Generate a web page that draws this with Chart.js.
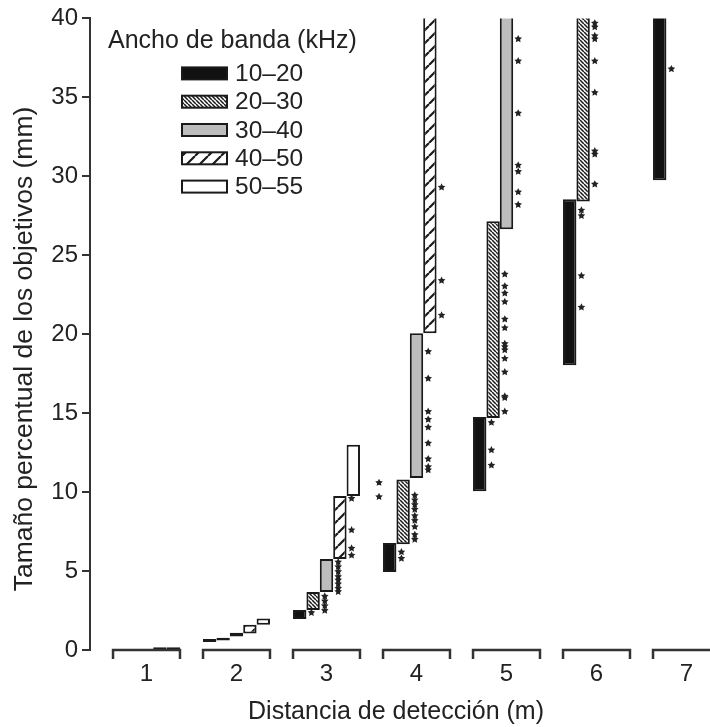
<!DOCTYPE html>
<html lang="es">
<head>
    <meta charset="UTF-8">
    <title>Tamaño percentual de los objetivos</title>
    <script src="https://cdn.jsdelivr.net/npm/chart.js"></script>
    <style>
        body { margin: 0; background: #fff; overflow: hidden; }
    </style>
</head>
<body>
    <canvas id="chart" width="710" height="727"></canvas>

    <script>
        // Distancias (m) y bandas de frecuencia
        const distances = [1, 2, 3, 4, 5, 6, 7];
        const bandLabels = ['10–20', '20–30', '30–40', '40–50', '50–55'];
        const yTicks = [0, 5, 10, 15, 20, 25, 30, 35, 40];

        // Rango [min, max] del tamaño percentual por distancia (null = sin barra)
        const range10_20 = [null, [0.5, 0.7], [1.96, 2.53], [4.94, 6.77], [10.06, 14.75], [18.04, 28.54], [29.75, 45]];
        const range20_30 = [null, [0.6, 0.78], [2.53, 3.67], [6.7, 10.8], [14.7, 27.15], [28.4, 45], null];
        const range30_40 = [null, [0.85, 1.1], [3.67, 5.76], [10.9, 20.06], [26.65, 45], null, null];
        const range40_50 = [[0, 0.18], [1.05, 1.6], [5.76, 9.75], [20.06, 45], null, null, null];
        const range50_55 = [[0, 0.18], [1.6, 2.0], [9.75, 13.0], null, null, null, null];

        // Asteriscos (valores en mm) a la derecha de cada barra
        const stars10_20 = [[], [], [2.36], [6.2, 5.8], [14.4, 12.66, 11.7], [27.85, 27.5, 23.7, 21.7], [36.8]];
        const stars20_30 = [[], [], [3.4, 3.1, 2.8, 2.5], [9.8, 9.5, 9.2, 8.9, 8.5, 8.2, 7.8, 7.3, 7.0],
            [23.8, 23.04, 22.6, 22.05, 20.95, 20.4, 19.4, 19.2, 19.0, 18.46, 17.6, 16.07, 15.97, 15.1],
            [39.7, 39.45, 38.9, 38.7, 37.3, 35.3, 31.6, 31.4, 29.5], []];
        const stars30_40 = [[], [], [5.57, 5.27, 4.96, 4.64, 4.43, 4.18, 3.9, 3.69],
            [18.9, 17.2, 15.1, 14.6, 14.1, 13.1, 12.1, 11.6, 11.4],
            [38.7, 37.3, 34.0, 30.7, 30.3, 29.0, 28.2], [], []];
        const stars40_50 = [[], [], [9.6, 7.6, 6.44, 6.0], [29.3, 23.4, 21.2], [], [], []];
        const stars50_55 = [[], [], [], [], [], [], []];
        // asteriscos sueltos a la izquierda de la barra 10-20 en 4 m
        const starsLeft10_20 = [[], [], [], [10.6, 9.7], [], [], []];

        const ranges = [range10_20, range20_30, range30_40, range40_50, range50_55];
        const starSets = [stars10_20, stars20_30, stars30_40, stars40_50, stars50_55];
        const leftStarSets = [starsLeft10_20, [], [], [], []];

        const catPct = 0.744;
        const FONT = '"Liberation Sans", Arial, sans-serif';
        const INK = '#222';

        // Tramas
        function hatch(size, dir, lw) {
            const c = document.createElement('canvas');
            c.width = size; c.height = size;
            const g = c.getContext('2d');
            g.fillStyle = '#fff';
            g.fillRect(0, 0, size, size);
            g.strokeStyle = '#1a1a1a';
            g.lineWidth = lw;
            g.beginPath();
            for (let k = -1; k <= 1; k++) {
                if (dir === 'back') { g.moveTo(k * size, 0); g.lineTo(k * size + size, size); }
                else { g.moveTo(k * size, size); g.lineTo(k * size + size, 0); }
            }
            g.stroke();
            return g.createPattern(c, 'repeat');
        }
        const fills = ['#111', hatch(4, 'back', 1.5), '#bdbdbd', hatch(13, 'fwd', 2.2), '#fff'];

        const datasets = bandLabels.map((lab, k) => ({
            label: lab,
            data: distances
                .map((d, i) => ({ x: d, y: ranges[k][i] }))
                .filter(p => p.y !== null),
            backgroundColor: fills[k],
            borderColor: '#1a1a1a',
            borderWidth: 2,
            borderSkipped: false,
            categoryPercentage: catPct,
            barPercentage: 1,
            clip: { top: 0, left: false, right: false, bottom: false }
        }));

        function drawStar(ctx, cx, cy, r) {
            ctx.beginPath();
            for (let i = 0; i < 10; i++) {
                const rad = i % 2 ? r * 0.5 : r;
                const a = -Math.PI / 2 + i * Math.PI / 5;
                ctx.lineTo(cx + rad * Math.cos(a), cy + rad * Math.sin(a));
            }
            ctx.closePath();
            ctx.fill();
        }

        // Corchetes del eje x, asteriscos, leyenda y títulos
        const extras = {
            id: 'extras',
            afterDatasetsDraw(chart) {
                const { ctx, chartArea, scales: { x, y } } = chart;
                ctx.save();

                // corchetes
                const half = (x.getPixelForValue(2) - x.getPixelForValue(1)) * catPct / 2;
                const y0 = y.getPixelForValue(0);
                ctx.strokeStyle = '#333';
                ctx.lineWidth = 2.5;
                distances.forEach(d => {
                    const cx = x.getPixelForValue(d);
                    ctx.beginPath();
                    ctx.moveTo(cx - half, y0 + 9);
                    ctx.lineTo(cx - half, y0);
                    ctx.lineTo(cx + half, y0);
                    ctx.lineTo(cx + half, y0 + 9);
                    ctx.stroke();
                });

                // asteriscos
                ctx.fillStyle = INK;
                chart.data.datasets.forEach((ds, k) => {
                    const meta = chart.getDatasetMeta(k);
                    meta.data.forEach((bar, j) => {
                        const i = distances.indexOf(ds.data[j].x);
                        (starSets[k][i] || []).forEach(v =>
                            drawStar(ctx, bar.x + bar.width / 2 + 5, y.getPixelForValue(v), 4));
                        ((leftStarSets[k] || [])[i] || []).forEach(v =>
                            drawStar(ctx, bar.x - bar.width / 2 - 4, y.getPixelForValue(v), 4));
                    });
                });

                // leyenda
                ctx.font = '25px ' + FONT;
                ctx.textBaseline = 'middle';
                ctx.textAlign = 'left';
                ctx.fillText('Ancho de banda (kHz)', chartArea.left + 18, chartArea.top + 23);
                ctx.font = '24.5px ' + FONT;
                chart.data.datasets.forEach((ds, k) => {
                    const yy = chartArea.top + 55 + k * 28.3;
                    ctx.fillStyle = ds.backgroundColor;
                    ctx.fillRect(chartArea.left + 92, yy - 6, 45, 12);
                    ctx.strokeStyle = '#1a1a1a';
                    ctx.lineWidth = 2;
                    ctx.strokeRect(chartArea.left + 92, yy - 6, 45, 12);
                    ctx.fillStyle = INK;
                    ctx.fillText(ds.label, chartArea.left + 145, yy + 1);
                });

                // títulos de ejes
                ctx.textAlign = 'center';
                ctx.font = '25px ' + FONT;
                ctx.fillText('Distancia de detección (m)', 396, 712);
                ctx.translate(25, 349);
                ctx.rotate(-Math.PI / 2);
                ctx.font = '26.5px ' + FONT;
                ctx.fillText('Tamaño percentual de los objetivos (mm)', 0, 0);

                ctx.restore();
            }
        };

        const chart = new Chart(document.getElementById('chart').getContext('2d'), {
            type: 'bar',
            data: { datasets },
            plugins: [extras],
            options: {
                responsive: false,
                animation: false,
                layout: { padding: { top: 18, right: 0, bottom: 0, left: 0 } },
                plugins: { legend: { display: false }, tooltip: { enabled: false } },
                scales: {
                    x: {
                        type: 'linear',
                        offset: false,
                        min: 0.3722,
                        max: 7.2611,
                        afterBuildTicks: s => { s.ticks = distances.map(v => ({ value: v })); },
                        afterFit: s => { s.height = 77; },
                        grid: { display: false, drawTicks: false },
                        border: { display: false },
                        ticks: { color: INK, font: { size: 24, family: FONT }, padding: 10 }
                    },
                    y: {
                        min: 0,
                        max: 40,
                        afterBuildTicks: s => { s.ticks = yTicks.map(v => ({ value: v })); },
                        afterFit: s => { s.width = 90; },
                        grid: { drawOnChartArea: false, tickLength: 8, color: '#333', lineWidth: 2 },
                        border: { display: true, color: '#333', width: 2 },
                        ticks: { color: INK, font: { size: 24, family: FONT }, padding: 4 }
                    }
                }
            }
        });
    </script>
</body>
</html>
